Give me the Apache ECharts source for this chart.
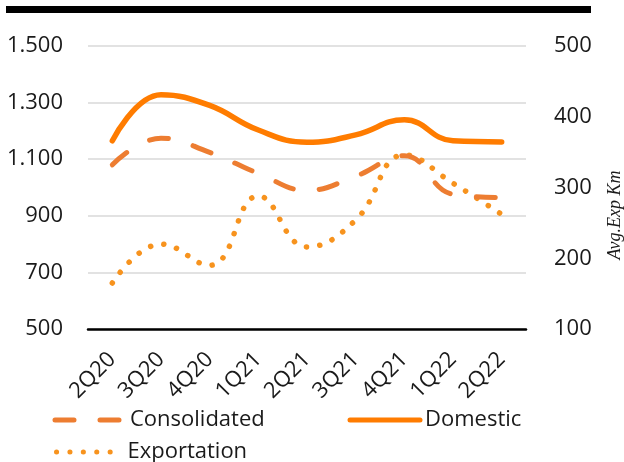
<!DOCTYPE html>
<html>
<head>
<meta charset="utf-8">
<script src="https://cdn.jsdelivr.net/npm/echarts@6/dist/echarts.min.js"></script>
<style>
  html, body { margin: 0; padding: 0; background: #fff; }
  #chart { width: 624px; height: 462px; }
</style>
</head>
<body>
<div id="chart"></div>
<script>
// Quarterly categories
const categories = ['2Q20', '3Q20', '4Q20', '1Q21', '2Q21', '3Q21', '4Q21', '1Q22', '2Q22'];
// Left axis series
const consolidated = [1080, 1174, 1124, 1050, 990, 1040, 1112, 976, 964];
const domestic = [1165, 1328, 1290, 1203, 1160, 1186, 1239, 1165, 1161];
// Right axis series (Avg.Exp Km)
const exportation = [165, 220, 190, 288, 216, 254, 346, 306, 262];
// Axis ranges
const leftAxis = { min: 500, max: 1500, step: 200 };
const rightAxis = { min: 100, max: 500, step: 100 };
const rightAxisName = 'Avg.Exp Km';

const FONT = '"Open Sans", "Noto Sans", sans-serif';
const TEXT = '#1a1a1a';
const C_CONS = '#ED7D31';
const C_DOM = '#FF7C00';
const C_EXP = '#F7931E';

const DASH_CONS = [19, 26];
const DOT_EXP = [0.1, 13.3];
const SMOOTH = 0.45;

function dotThousands(v) {
  return String(v).replace(/\B(?=(\d{3})+(?!\d))/g, '.');
}

const chart = echarts.init(document.getElementById('chart'), null, { renderer: 'canvas' });

function legendFor(name, color, dash, left, top, itemWidth, textPadLeft) {
  return {
    data: [name],
    orient: 'horizontal',
    left: left,
    top: top,
    padding: 0,
    icon: 'inherit',
    itemWidth: itemWidth,
    itemHeight: 14,
    selectedMode: false,
    itemStyle: { color: 'transparent', borderWidth: 0 },
    lineStyle: { width: 5, color: color, type: dash, cap: 'round' },
    textStyle: {
      fontFamily: FONT, fontSize: 22, color: TEXT,
      padding: [0, 0, 0, textPadLeft]
    }
  };
}

chart.setOption({
  animation: false,
  grid: { left: 88, right: 98, top: 46, bottom: 133, containLabel: false },
  graphic: [
    { type: 'rect', shape: { x: 6, y: 6, width: 585, height: 7 }, style: { fill: '#000' } },
    {
      type: 'text', x: 615, y: 215, rotation: Math.PI / 2,
      style: {
        text: rightAxisName, fill: TEXT, align: 'center', verticalAlign: 'middle',
        font: 'italic 18px "Liberation Serif", "DejaVu Serif", serif'
      }
    }
  ],
  legend: [
    legendFor('Consolidated', C_CONS, DASH_CONS, 52.5, 409, 70, 0),
    legendFor('Domestic', C_DOM, 'solid', 347.5, 409, 70, 0),
    legendFor('Exportation', C_EXP, DOT_EXP, 54, 441, 54, 12)
  ],
  xAxis: {
    type: 'category',
    data: categories,
    boundaryGap: true,
    axisLine: { lineStyle: { color: '#000', width: 2.5 } },
    axisTick: { show: false },
    axisLabel: { rotate: 45, margin: 27, fontFamily: FONT, fontSize: 22, color: TEXT, interval: 0 }
  },
  yAxis: [
    {
      type: 'value', min: leftAxis.min, max: leftAxis.max, interval: leftAxis.step,
      axisLine: { show: false }, axisTick: { show: false },
      axisLabel: { margin: 25, fontFamily: FONT, fontSize: 22, color: TEXT, formatter: dotThousands },
      splitLine: { lineStyle: { color: '#d9d9d9', width: 1.5 } }
    },
    {
      type: 'value', min: rightAxis.min, max: rightAxis.max, interval: rightAxis.step,
      position: 'right',
      axisLine: { show: false }, axisTick: { show: false },
      axisLabel: { margin: 28, fontFamily: FONT, fontSize: 22, color: TEXT },
      splitLine: { show: false }
    }
  ],
  series: [
    {
      name: 'Consolidated', type: 'line', data: consolidated, yAxisIndex: 0,
      smooth: SMOOTH, symbol: 'none', z: 3,
      itemStyle: { color: C_CONS },
      lineStyle: { color: C_CONS, width: 5, type: DASH_CONS, cap: 'round' }
    },
    {
      name: 'Domestic', type: 'line', data: domestic, yAxisIndex: 0,
      smooth: SMOOTH, symbol: 'none', z: 4,
      itemStyle: { color: C_DOM },
      lineStyle: { color: C_DOM, width: 5.5, cap: 'round' }
    },
    {
      name: 'Exportation', type: 'line', data: exportation, yAxisIndex: 1,
      smooth: SMOOTH, symbol: 'none', z: 2,
      itemStyle: { color: C_EXP },
      lineStyle: { color: C_EXP, width: 5.5, type: DOT_EXP, cap: 'round' }
    }
  ]
});
</script>
</body>
</html>
